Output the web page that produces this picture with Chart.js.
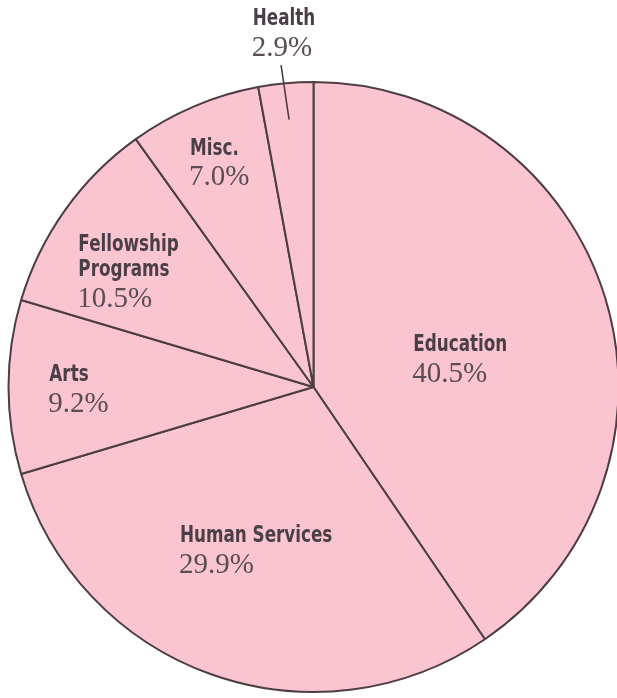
<!DOCTYPE html>
<html>
<head>
<meta charset="utf-8">
<script src="https://cdn.jsdelivr.net/npm/chart.js@4/dist/chart.umd.min.js"></script>
<style>
  html, body { margin: 0; padding: 0; background: #ffffff; overflow: hidden; }
  #wrap { position: relative; width: 617px; height: 698px; }
</style>
</head>
<body>
<div id="wrap"><canvas id="c" width="617" height="698"></canvas></div>
<script>
// ---- Data ----
const categories = ["Education", "Human Services", "Arts", "Fellowship Programs", "Misc.", "Health"];
const nameLines = [["Education"], ["Human Services"], ["Arts"], ["Fellowship", "Programs"], ["Misc."], ["Health"]];
const shares = [40.5, 29.9, 9.2, 10.5, 7.0, 2.9];
const percentLabels = ["40.5%", "29.9%", "9.2%", "10.5%", "7.0%", "2.9%"];

// label anchor (left edge, first line centre) in units of pie radius, relative to pie centre
const labelAnchors = [
  [0.327, -0.137],
  [-0.438, 0.490],
  [-0.866, -0.039],
  [-0.771, -0.464],
  [-0.405, -0.781],
  [-0.199, -1.206]
];
const leaderFor = [false, false, false, false, false, true];

const FILL = "#fac4d1";
const EDGE = "#4d3d45";
const NAME_COLOR = "#4a3f47";
const PCT_COLOR = "#5a4d56";
const NAME_FONT = "bold 23px 'DejaVu Sans', sans-serif";
const NAME_SQUEEZE = 0.73;
const PCT_FONT = "29px 'Liberation Serif', 'DejaVu Serif', serif";

const labelPlugin = {
  id: "sliceLabels",
  afterDatasetsDraw(chart) {
    const ctx = chart.ctx;
    const meta = chart.getDatasetMeta(0);
    meta.data.forEach((arc, i) => {
      const cx = arc.x, cy = arc.y, r = arc.outerRadius;
      ctx.save();
      if (leaderFor[i]) {
        const mid = (arc.startAngle + arc.endAngle) / 2;
        ctx.beginPath();
        ctx.moveTo(cx + Math.cos(mid) * r * 0.88, cy + Math.sin(mid) * r * 0.88);
        ctx.lineTo(cx + Math.cos(mid) * r * 1.06 - 3, cy + Math.sin(mid) * r * 1.06);
        ctx.strokeStyle = EDGE;
        ctx.lineWidth = 1.6;
        ctx.stroke();
      }
      const x = cx + labelAnchors[i][0] * r;
      let y = cy + labelAnchors[i][1] * r;
      ctx.textAlign = "left";
      ctx.textBaseline = "middle";
      ctx.font = NAME_FONT;
      ctx.fillStyle = NAME_COLOR;
      nameLines[i].forEach((ln, k) => {
        ctx.save();
        ctx.translate(x, y);
        ctx.scale(NAME_SQUEEZE, 1);
        ctx.fillText(ln, 0, 0);
        ctx.restore();
        if (k < nameLines[i].length - 1) y += 25;
      });
      y += 29;
      ctx.font = PCT_FONT;
      ctx.fillStyle = PCT_COLOR;
      ctx.fillText(percentLabels[i], x - 1, y);
      ctx.restore();
    });
  }
};

new Chart(document.getElementById("c"), {
  type: "pie",
  data: {
    labels: categories,
    datasets: [{
      data: shares,
      backgroundColor: FILL,
      borderColor: EDGE,
      borderWidth: 2
    }]
  },
  options: {
    responsive: false,
    animation: false,
    radius: 305,
    rotation: 0,
    layout: { padding: { left: 10, right: 0, top: 76, bottom: 0 } },
    plugins: {
      legend: { display: false },
      tooltip: { enabled: false },
      title: { display: false }
    }
  },
  plugins: [labelPlugin]
});
</script>
</body>
</html>
